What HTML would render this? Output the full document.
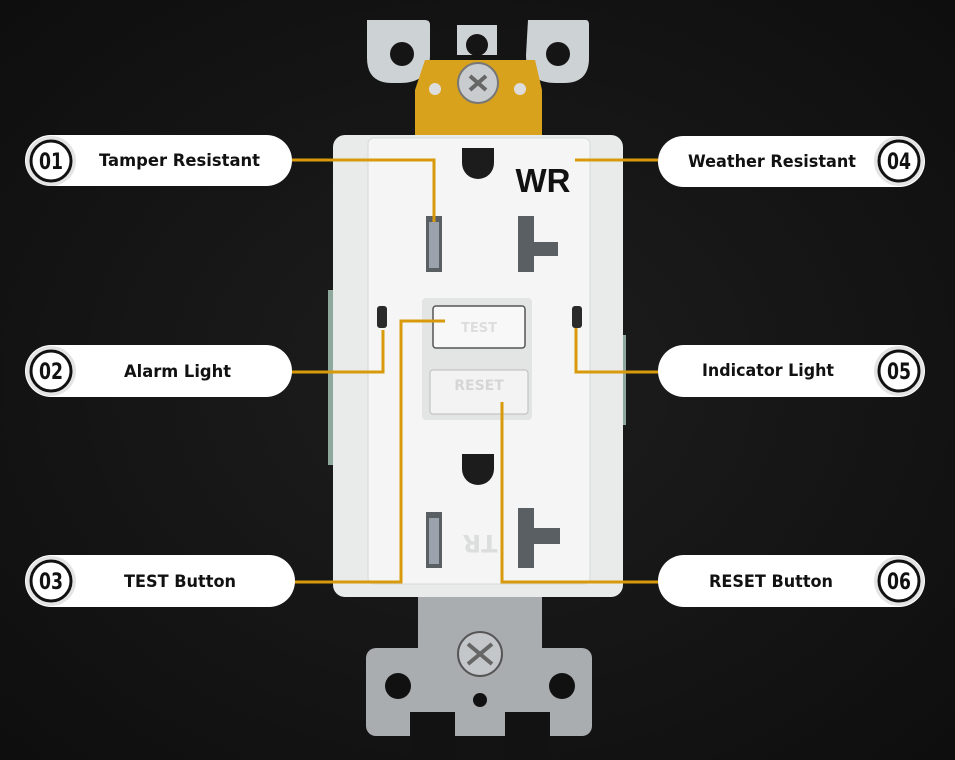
<!DOCTYPE html>
<html><head><meta charset="utf-8"><style>
html,body{margin:0;padding:0;background:#121212;}
svg{display:block}
text{font-family:"DejaVu Sans","Liberation Sans",sans-serif;font-weight:bold;}
</style></head><body>
<svg width="955" height="760" viewBox="0 0 955 760" xmlns="http://www.w3.org/2000/svg">
<defs>
<radialGradient id="bg" cx="50%" cy="50%" r="70%"><stop offset="0" stop-color="#1e1e1e"/><stop offset="1" stop-color="#0e0e0e"/></radialGradient>
</defs>
<rect width="955" height="760" fill="url(#bg)"/>
<!-- top bracket -->
<path d="M367 20 h58 q5 0 5 5 v30 q0 28 -30 28 h-8 q-25 0 -25 -25 z" fill="#cdd2d5"/>
<path d="M457 25 h40 v30 h-40 z" fill="#cdd2d5"/>
<path d="M528 20 h58 q3 0 3 5 v33 q0 25 -25 25 h-8 q-30 0 -30 -28 z" fill="#cdd2d5"/>
<circle cx="402" cy="54" r="12" fill="#151515"/>
<circle cx="477" cy="45" r="11" fill="#151515"/>
<circle cx="558" cy="54" r="12" fill="#151515"/>
<path d="M425 60 h110 l7 30 v45 h-127 v-45 z" fill="#d9a21c"/>
<circle cx="435" cy="89" r="6" fill="#ddd"/><circle cx="520" cy="89" r="6" fill="#ddd"/>
<circle cx="478" cy="83" r="20" fill="#c9ccce" stroke="#777" stroke-width="2"/>
<path d="M470 76 l16 14 M486 76 l-16 14" stroke="#666" stroke-width="4"/>
<!-- bottom bracket -->
<rect x="418" y="590" width="124" height="70" fill="#a9adb0"/>
<rect x="366" y="648" width="226" height="88" rx="10" fill="#a9adb0"/>
<rect x="410" y="712" width="45" height="48" fill="#121212"/>
<rect x="505" y="712" width="45" height="48" fill="#121212"/>
<circle cx="398" cy="686" r="13" fill="#111"/>
<circle cx="562" cy="686" r="13" fill="#111"/>
<circle cx="480" cy="700" r="7" fill="#111"/>
<circle cx="480" cy="654" r="22" fill="#c4c7c9" stroke="#555" stroke-width="2"/>
<path d="M468 644 l24 20 M492 644 l-24 20" stroke="#666" stroke-width="4"/>
<!-- body -->
<rect x="328" y="290" width="14" height="175" fill="#8fa89d"/>
<rect x="614" y="335" width="12" height="90" fill="#8fa89d"/>
<rect x="333" y="135" width="290" height="462" rx="12" fill="#e9ebea"/>
<rect x="368" y="138" width="222" height="446" rx="6" fill="#f4f5f4" stroke="#d8dad9"/>
<!-- ground holes -->
<path d="M462 148 h32 v15 a16 16 0 0 1 -32 0 z" fill="#1c1c1c"/>
<path d="M462 454 h32 v15 a16 16 0 0 1 -32 0 z" fill="#1c1c1c"/>
<!-- slots -->
<rect x="426" y="216" width="16" height="56" fill="#5a5f64"/><rect x="429" y="222" width="10" height="46" fill="#9aa3ab"/>
<rect x="518" y="216" width="16" height="56" fill="#5a5f64"/><rect x="534" y="242" width="24" height="14" fill="#5a5f64"/>
<rect x="426" y="512" width="16" height="56" fill="#5a5f64"/><rect x="429" y="518" width="10" height="46" fill="#9aa3ab"/>
<rect x="518" y="508" width="16" height="60" fill="#5a5f64"/><rect x="534" y="528" width="26" height="16" fill="#5a5f64"/>
<text x="480" y="555" font-size="24" fill="#dcdedd" text-anchor="middle" transform="rotate(180 480 545)">TR</text>
<!-- buttons -->
<rect x="422" y="298" width="110" height="122" rx="4" fill="#e3e5e4"/>
<rect x="433" y="306" width="92" height="42" rx="3" fill="#f8f8f8" stroke="#555" stroke-width="1.5"/>
<rect x="430" y="370" width="98" height="44" rx="3" fill="#f2f3f2" stroke="#bbb"/>
<text x="479" y="332" font-size="13" fill="#ddd" text-anchor="middle">TEST</text>
<text x="479" y="390" font-size="14" fill="#d6d6d6" text-anchor="middle">RESET</text>
<!-- lights -->
<rect x="377" y="306" width="10" height="22" rx="3" fill="#2a2a2a"/>
<rect x="572" y="306" width="10" height="22" rx="3" fill="#2a2a2a"/>
<text x="543" y="192" font-size="33" fill="#111" text-anchor="middle" style="font-family:'Liberation Sans',sans-serif">WR</text>
<!-- connectors -->
<g stroke="#d89a0a" stroke-width="3" fill="none">
<path d="M292 160 H434 V222"/>
<path d="M273 372 H383 V330"/>
<path d="M295 582 H401 V321 H445"/>
<path d="M575 160 H658"/>
<path d="M576 328 V372 H658"/>
<path d="M502 402 V582 H658"/>
</g>
<!-- pills -->
<g>
<rect x="25" y="135" width="267" height="51" rx="25.5" fill="#fff"/>
<rect x="25" y="345" width="267" height="52" rx="26" fill="#fff"/>
<rect x="25" y="555" width="270" height="52" rx="26" fill="#fff"/>
<rect x="658" y="136" width="267" height="51" rx="25.5" fill="#fff"/>
<rect x="658" y="345" width="267" height="52" rx="26" fill="#fff"/>
<rect x="658" y="555" width="267" height="52" rx="26" fill="#fff"/>
</g>
<g fill="#e4e4e4">
<circle cx="51" cy="161" r="25"/><circle cx="51" cy="371" r="25"/><circle cx="51" cy="581" r="25"/>
<circle cx="899" cy="161" r="25"/><circle cx="899" cy="371" r="25"/><circle cx="899" cy="581" r="25"/>
</g>
<g fill="#fff" stroke="#111" stroke-width="3">
<circle cx="51" cy="161" r="20"/><circle cx="51" cy="371" r="20"/><circle cx="51" cy="581" r="20"/>
<circle cx="899" cy="161" r="20"/><circle cx="899" cy="371" r="20"/><circle cx="899" cy="581" r="20"/>
</g>
<g font-size="22" fill="#111" text-anchor="middle" style="font-family:'Liberation Sans',sans-serif">
<text x="51" y="169" textLength="24" lengthAdjust="spacingAndGlyphs">01</text>
<text x="51" y="379" textLength="24" lengthAdjust="spacingAndGlyphs">02</text>
<text x="51" y="589" textLength="24" lengthAdjust="spacingAndGlyphs">03</text>
<text x="899" y="169" textLength="24" lengthAdjust="spacingAndGlyphs">04</text>
<text x="899" y="379" textLength="24" lengthAdjust="spacingAndGlyphs">05</text>
<text x="899" y="589" textLength="24" lengthAdjust="spacingAndGlyphs">06</text>
</g>
<g font-size="17" fill="#111">
<text x="99" y="166" textLength="161" lengthAdjust="spacingAndGlyphs">Tamper Resistant</text>
<text x="124" y="377" textLength="107" lengthAdjust="spacingAndGlyphs">Alarm Light</text>
<text x="124" y="587" textLength="112" lengthAdjust="spacingAndGlyphs">TEST Button</text>
<text x="688" y="167" textLength="168" lengthAdjust="spacingAndGlyphs">Weather Resistant</text>
<text x="702" y="376" textLength="132" lengthAdjust="spacingAndGlyphs">Indicator Light</text>
<text x="709" y="587" textLength="124" lengthAdjust="spacingAndGlyphs">RESET Button</text>
</g>
</svg>
</body></html>
